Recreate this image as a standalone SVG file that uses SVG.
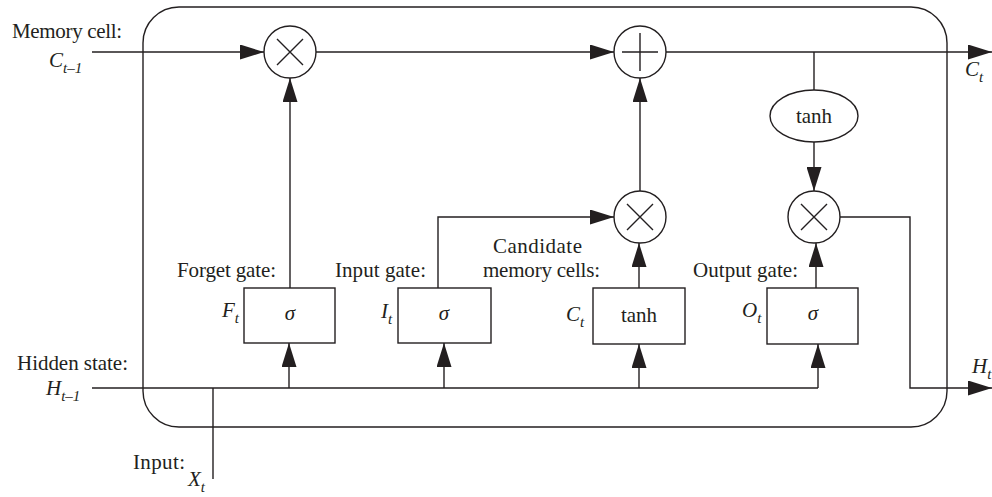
<svg xmlns="http://www.w3.org/2000/svg" width="992" height="497" viewBox="0 0 992 497">
<style>
.ln{fill:none;stroke:#231f20;stroke-width:1.4}
.sh{fill:#fff;stroke:#231f20;stroke-width:1.4}
.t{font-family:"Liberation Serif","Times New Roman",serif;font-size:21px;fill:#231f20}
.i{font-style:italic}
.s{font-size:15px}
</style>
<defs>
<marker id="ah" markerUnits="userSpaceOnUse" markerWidth="24" markerHeight="15" refX="24" refY="7.5" orient="auto">
<path d="M0,0 L24,7.5 L0,15 z" fill="#231f20"/>
</marker>
</defs>
<rect id="cell" x="143" y="7" width="804" height="420" rx="36" ry="36" class="ln"/>
<g id="connectors" class="ln">
<path d="M92,52 H264" marker-end="url(#ah)"/>
<path d="M316,52 H614" marker-end="url(#ah)"/>
<path d="M666,52 H992" marker-end="url(#ah)"/>
<path d="M290,288 V78" marker-end="url(#ah)"/>
<path d="M92,388 H818"/>
<path d="M289,388 V343" marker-end="url(#ah)"/>
<path d="M444,388 V343" marker-end="url(#ah)"/>
<path d="M639,388 V344" marker-end="url(#ah)"/>
<path d="M818,388 V344" marker-end="url(#ah)"/>
<path d="M438,288 V217 H614" marker-end="url(#ah)"/>
<path d="M639,288 V243" marker-end="url(#ah)"/>
<path d="M640,191 V78" marker-end="url(#ah)"/>
<path d="M814,52 V90"/>
<path d="M814,142 V191" marker-end="url(#ah)"/>
<path d="M816,288 V243" marker-end="url(#ah)"/>
<path d="M840,217 H910 V388 H992" marker-end="url(#ah)"/>
<path d="M213,479 V388"/>
</g>
<g id="forget-mult">
<circle cx="290" cy="52" r="26" class="sh"/>
<path d="M277,39 L303,65 M303,39 L277,65" class="ln"/>
</g>
<g id="plus">
<circle cx="640" cy="52" r="26" class="sh"/>
<path d="M622,52 H658 M640,33 V71" class="ln"/>
</g>
<g id="cand-mult">
<circle cx="640" cy="217" r="26" class="sh"/>
<path d="M627,204 L653,230 M653,204 L627,230" class="ln"/>
</g>
<g id="out-mult">
<circle cx="814" cy="217" r="26" class="sh"/>
<path d="M801,204 L827,230 M827,204 L801,230" class="ln"/>
</g>
<g id="tanh-ellipse">
<ellipse cx="814" cy="116" rx="44" ry="26" class="sh"/>
<text x="814" y="123" class="t" text-anchor="middle">tanh</text>
</g>
<g id="forget-gate">
<rect x="244" y="288" width="91" height="55" class="sh"/>
<text x="290" y="320" class="t i" text-anchor="middle">σ</text>
<text x="177" y="277" class="t" textLength="99">Forget gate:</text>
<text x="222" y="317" class="t i">F<tspan class="s" dy="6">t</tspan></text>
</g>
<g id="input-gate">
<rect x="398" y="288" width="93" height="55" class="sh"/>
<text x="444" y="320" class="t i" text-anchor="middle">σ</text>
<text x="335" y="277" class="t" textLength="91">Input gate:</text>
<text x="381" y="318" class="t i">I<tspan class="s" dy="6">t</tspan></text>
</g>
<g id="candidate">
<rect x="593" y="288" width="92" height="56" class="sh"/>
<text x="639" y="322" class="t" text-anchor="middle">tanh</text>
<text x="493" y="253" class="t" textLength="89">Candidate</text>
<text x="483" y="277" class="t" textLength="117">memory cells:</text>
<text x="566" y="321" class="t i">C<tspan class="s" dy="6">t</tspan></text>
</g>
<g id="output-gate">
<rect x="767" y="288" width="91" height="56" class="sh"/>
<text x="813" y="320" class="t i" text-anchor="middle">σ</text>
<text x="693" y="277" class="t" textLength="105">Output gate:</text>
<text x="742" y="317" class="t i">O<tspan class="s" dy="6">t</tspan></text>
</g>
<g id="labels">
<text x="12" y="38" class="t" textLength="110">Memory cell:</text>
<text x="49" y="67" class="t i">C<tspan class="s" dy="6">t–1</tspan></text>
<text x="17" y="370" class="t" textLength="111">Hidden state:</text>
<text x="46" y="395" class="t i">H<tspan class="s" dy="6">t–1</tspan></text>
<text x="133" y="469" class="t" textLength="52">Input:</text>
<text x="188" y="486" class="t i">X<tspan class="s" dy="6">t</tspan></text>
<text x="965" y="76" class="t i">C<tspan class="s" dy="6">t</tspan></text>
<text x="972" y="373" class="t i">H<tspan class="s" dy="6">t</tspan></text>
</g>
</svg>
